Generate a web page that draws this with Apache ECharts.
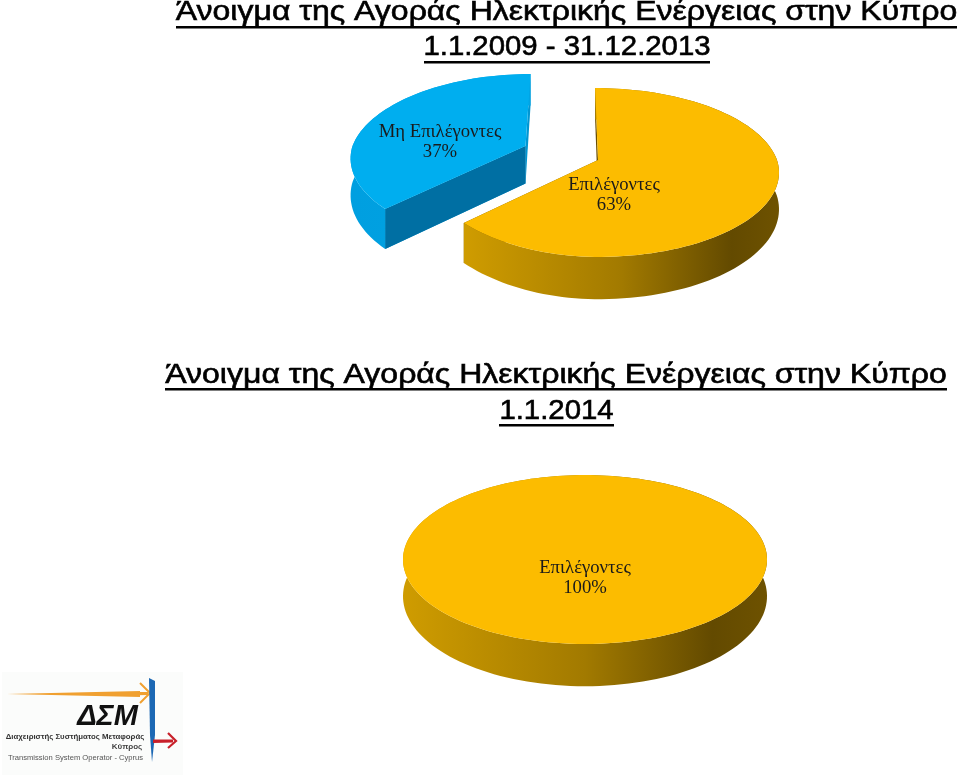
<!DOCTYPE html>
<html><head><meta charset="utf-8">
<style>html,body{margin:0;padding:0;background:#fff}#c{width:959px;height:777px}</style>
<script src="https://cdn.jsdelivr.net/npm/echarts@6/dist/echarts.min.js"></script>
</head><body><div id="c"></div>
<script>
const titleLine = 'Άνοιγμα της Αγοράς Ηλεκτρικής Ενέργειας στην Κύπρο';
const period1 = '1.1.2009 - 31.12.2013';
const period2 = '1.1.2014';
const categories1 = ['Επιλέγοντες', 'Μη Επιλέγοντες'];
const values1 = [63, 37];
const categories2 = ['Επιλέγοντες'];
const values2 = [100];

const chart = echarts.init(document.getElementById('c'), null, {renderer:'canvas'});
const YELLOW = {top:'#fcbc00', side:'#6b4f00',
  rim:[[0,'#cf9c00'],[0.5,'#a27a00'],[0.85,'#634a00'],[1,'#6e5200']]};
const BLUE = {top:'#00aeef', side:'#0096d2', cut:'#006fa3',
  rim:[[0,'#009fe0'],[1,'#00a4e4']]};

const K = 0.148, RY = 82.6, D = 36;
function project(o, deg){
  const t = deg*Math.PI/180, u = Math.sin(t), v = -Math.cos(t), s = 1/(1-K*v);
  const y = RY*v*s;
  let x = o.x + o.r*u*s;
  if(y<0) x += (o.lean||0)*y;
  if(u<0 && v>0) x += (o.pinch||0)*(-u)*v;
  return {x:x, y:o.y + y, d:D*s};
}
function slice(o, a0, a1, pal, labelLines){
  const top = [], n = Math.ceil((a1-a0)/2);
  for(let i=0;i<=n;i++){ top.push(project(o, a0+(a1-a0)*i/n)); }
  const full = a1-a0 >= 360;
  const topPts = top.map(p=>[p.x,p.y]);
  const rimPts = topPts.concat(top.slice().reverse().map(p=>[p.x,p.y+p.d]));
  const kids = [];
  if(!full){
    const s = top[0], e = top[top.length-1], a = D*1.04;
    kids.push({type:'polygon',shape:{points:[[s.x,s.y],[s.x,s.y+s.d],[o.x,o.y+a],[o.x,o.y]]},style:{fill:pal.side}});
    kids.push({type:'polygon',shape:{points:[[e.x,e.y],[e.x,e.y+e.d],[o.x,o.y+a],[o.x,o.y]]},style:{fill:pal.side}});
    if(pal.cut){
      const c = s.y < e.y ? e : s;
      kids.push({type:'polygon',shape:{points:[[c.x,c.y],[c.x,c.y+c.d],[o.x,o.y+a],[o.x,o.y]]},style:{fill:pal.cut}});
    }
  }
  kids.push({type:'polygon',shape:{points:rimPts},
    style:{fill:new echarts.graphic.LinearGradient(0,0,1,0,pal.rim.map(c=>({offset:c[0],color:c[1]})))}});
  kids.push({type:'polygon',shape:{points:full?topPts:[[o.x,o.y]].concat(topPts)},style:{fill:pal.top}});
  kids.push({type:'text',x:o.lx,y:o.ly,style:{text:labelLines,fill:'#1a1a1a',
    font:'18.7px "Liberation Serif"',align:'center',verticalAlign:'middle',lineHeight:20}});
  return {type:'group',children:kids};
}
const layout1 = [
  {x:598,y:160,r:179,lean:0.04,pinch:22,lx:614,ly:195,pal:YELLOW},
  {x:525.5,y:146,r:173,lean:-0.07,lx:440,ly:142,pal:BLUE}
];
const layout2 = [{x:585,y:547,r:180,lx:585,ly:578,pal:YELLOW}];
function series(cats, vals, layout, rot){
  const sum = vals.reduce((a,b)=>a+b,0);
  return {type:'custom',coordinateSystem:'none',silent:true,
    data:vals.map((v,i)=>({name:cats[i],value:v})),
    renderItem(params, api){
      const i = params.dataIndex;
      let before = 0; for(let j=0;j<i;j++) before += vals[j];
      const a0 = rot+before/sum*360, a1 = a0+api.value(0)/sum*360;
      return slice(layout[i], a0, a1, layout[i].pal, cats[i]+'\n'+api.value(0)+'%');
    }};
}
function ttl(t,x,y,sx){return {type:'text',x:x,y:y,scaleX:sx,style:{text:t,font:'27.5px "Liberation Sans"',fill:'#000',
  stroke:'#000',lineWidth:0.6,align:'center',verticalAlign:'middle'}};}
function ul(x1,x2,y){return {type:'rect',shape:{x:x1,y:y,width:x2-x1,height:2.4},style:{fill:'#000'}};}
const logoFont = (w,s)=>`${w} ${s}px "Liberation Sans"`;
const logoText = (t,x,y,f,c)=>({type:'text',x:x,y:y,style:{text:t,font:f,fill:c,align:'center',verticalAlign:'middle'}});
chart.setOption({
  animation:false,
  backgroundColor:'#fff',
  series:[series(categories1,values1,layout1,0),series(categories2,values2,layout2,0)],
  graphic:[
    ttl(titleLine,566.5,12,1.164),ttl(period1,567,47.5,1.067),ttl(titleLine,556,375,1.164),ttl(period2,556.5,411,1.067),
    ul(176,957,26),ul(424,710,61),ul(165,947,388),ul(499,614,424),
    {type:'rect',z:-1,shape:{x:2,y:672,width:181,height:103},style:{fill:'#fbfcfb'}},
    {type:'polygon',shape:{points:[[7,694],[140,691],[140,697]]},style:{fill:'#f0a030'}},
    {type:'polygon',shape:{points:[[100,692],[148,692],[148,695],[100,696]]},style:{fill:'#f0a030'}},
    {type:'polyline',shape:{points:[[140,683],[150,693],[140,703]]},style:{stroke:'#f0a030',lineWidth:2,fill:null}},
    {type:'polygon',shape:{points:[[149,678],[155,681],[155,735],[152,762],[150,735]]},style:{fill:'#1c68b4'}},
    {type:'polygon',shape:{points:[[153,739.5],[173,739.5],[173,742.5],[153,743]]},style:{fill:'#c8202a'}},
    {type:'polyline',shape:{points:[[168,733],[176,741],[168,748]]},style:{stroke:'#c8202a',lineWidth:2.2,fill:null}},
    logoText('ΔΣΜ',107.5,717,'italic bold 29px "Liberation Sans"','#111'),
    logoText('Διαχειριστής Συστήματος Μεταφοράς',75,737,logoFont('bold',7.8),'#333'),
    logoText('Κύπρος',127,747,logoFont('bold',8),'#444'),
    logoText('Transmission System Operator - Cyprus',75.5,758,logoFont('normal',7.6),'#555')
  ]
});
</script></body></html>
